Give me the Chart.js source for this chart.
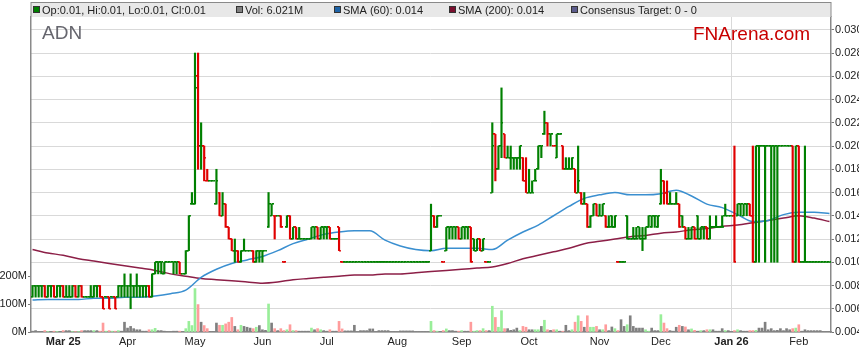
<!DOCTYPE html>
<html>
<head>
<meta charset="utf-8">
<script src="https://cdn.jsdelivr.net/npm/chart.js@4.4.1/dist/chart.umd.min.js"></script>
<style>
  html, body { margin: 0; padding: 0; background: #fff; }
</style>
</head>
<body>
<canvas id="adnChart" width="859" height="363"></canvas>
<script>
// ADN daily bars, one entry per weekday from 17 Feb 2025 to 16 Feb 2026
const firstDay = '2025-02-17';

const open = [
  0.007,0.008,0.008,0.008,0.008,0.007,0.008,0.008,0.007,0.008,
  0.008,0.007,0.007,0.007,0.008,0.007,0.008,0.007,0.007,0.007,
  0.007,0.008,0.008,0.007,0.007,0.007,0.007,0.007,0.007,0.008,
  0.008,0.008,0.008,0.008,0.008,0.008,0.008,0.008,0.008,0.007,
  0.009,0.010,0.010,0.009,0.010,0.010,0.010,0.010,0.010,0.009,
  0.009,0.011,0.015,0.015,0.026,0.020,0.020,0.017,0.017,0.017,
  0.015,0.016,0.014,0.015,0.013,0.012,0.011,0.011,0.010,0.011,
  0.011,0.011,0.011,0.010,0.011,0.011,0.011,0.013,0.014,0.014,
  0.014,0.014,0.010,0.013,0.014,0.012,0.013,0.012,0.012,0.012,
  0.012,0.012,0.013,0.013,0.012,0.013,0.013,0.013,0.012,0.012,
  0.013,0.010,0.010,0.010,0.010,0.010,0.010,0.010,0.010,0.010,
  0.010,0.010,0.010,0.010,0.010,0.010,0.010,0.010,0.010,0.010,
  0.010,0.010,0.010,0.010,0.010,0.010,0.010,0.010,0.010,0.010,
  0.011,0.014,0.013,0.014,0.010,0.011,0.013,0.013,0.013,0.013,
  0.012,0.013,0.013,0.013,0.012,0.011,0.012,0.011,0.010,0.010,
  0.016,0.021,0.018,0.020,0.021,0.019,0.019,0.019,0.019,0.019,
  0.019,0.017,0.016,0.016,0.017,0.018,0.020,0.021,0.022,0.021,
  0.020,0.019,0.021,0.020,0.018,0.018,0.018,0.018,0.016,0.016,
  0.015,0.015,0.013,0.014,0.015,0.014,0.014,0.014,0.013,0.014,
  0.013,0.010,0.010,0.010,0.014,0.012,0.012,0.012,0.013,0.012,
  0.012,0.013,0.013,0.014,0.013,0.015,0.017,0.016,0.015,0.015,
  0.015,0.015,0.014,0.013,0.012,0.012,0.013,0.014,0.012,0.013,
  0.013,0.012,0.013,0.013,0.013,0.013,0.014,0.014,0.014,0.014,
  0.014,0.015,0.014,0.015,0.015,0.014,0.010,0.020,0.020,0.020,
  0.020,0.020,0.020,0.020,0.020,0.020,0.020,0.020,0.020,0.010,
  0.020,0.010,0.010,0.010,0.010,0.010,0.010,0.010,0.010,0.010,
  0.010
];

const high = [
  0.008,0.008,0.008,0.008,0.008,0.008,0.008,0.008,0.008,0.008,
  0.008,0.008,0.008,0.008,0.008,0.008,0.008,0.007,0.007,0.008,
  0.008,0.008,0.008,0.007,0.007,0.007,0.007,0.007,0.008,0.008,
  0.009,0.008,0.009,0.008,0.009,0.008,0.008,0.008,0.008,0.009,
  0.010,0.010,0.010,0.010,0.010,0.010,0.010,0.010,0.010,0.009,
  0.011,0.014,0.016,0.028,0.028,0.022,0.020,0.018,0.017,0.017,
  0.018,0.016,0.016,0.015,0.013,0.012,0.012,0.011,0.011,0.012,
  0.011,0.011,0.011,0.011,0.011,0.011,0.011,0.016,0.015,0.014,
  0.014,0.014,0.010,0.014,0.014,0.013,0.013,0.013,0.012,0.012,
  0.012,0.013,0.013,0.013,0.013,0.013,0.013,0.013,0.012,0.012,
  0.013,0.010,0.010,0.010,0.010,0.010,0.010,0.010,0.010,0.010,
  0.010,0.010,0.010,0.010,0.010,0.010,0.010,0.010,0.010,0.010,
  0.010,0.010,0.010,0.010,0.010,0.010,0.010,0.010,0.010,0.010,
  0.015,0.014,0.014,0.014,0.010,0.013,0.013,0.013,0.013,0.013,
  0.013,0.013,0.013,0.013,0.012,0.012,0.012,0.012,0.010,0.010,
  0.022,0.021,0.020,0.025,0.021,0.020,0.020,0.019,0.019,0.020,
  0.019,0.019,0.018,0.017,0.018,0.020,0.020,0.023,0.022,0.021,
  0.020,0.021,0.021,0.020,0.019,0.019,0.019,0.018,0.020,0.016,
  0.016,0.015,0.014,0.015,0.015,0.015,0.015,0.014,0.014,0.014,
  0.014,0.010,0.010,0.010,0.014,0.012,0.013,0.013,0.013,0.013,
  0.013,0.014,0.014,0.014,0.014,0.018,0.017,0.017,0.016,0.015,
  0.016,0.015,0.014,0.013,0.013,0.013,0.013,0.014,0.013,0.013,
  0.013,0.014,0.013,0.014,0.013,0.014,0.015,0.014,0.014,0.020,
  0.015,0.015,0.015,0.015,0.015,0.020,0.020,0.020,0.020,0.020,
  0.020,0.020,0.020,0.020,0.020,0.020,0.020,0.020,0.020,0.020,
  0.020,0.010,0.020,0.010,0.010,0.010,0.010,0.010,0.010,0.010,
  0.010
];

const low = [
  0.007,0.007,0.007,0.007,0.007,0.007,0.007,0.007,0.007,0.007,
  0.007,0.007,0.007,0.007,0.007,0.007,0.007,0.007,0.007,0.007,
  0.007,0.007,0.007,0.006,0.007,0.006,0.007,0.006,0.007,0.007,
  0.007,0.007,0.006,0.007,0.007,0.007,0.007,0.007,0.007,0.007,
  0.009,0.009,0.009,0.009,0.010,0.010,0.009,0.009,0.009,0.009,
  0.009,0.011,0.015,0.015,0.018,0.018,0.017,0.017,0.017,0.017,
  0.015,0.014,0.014,0.013,0.012,0.011,0.010,0.010,0.010,0.011,
  0.011,0.011,0.010,0.010,0.010,0.010,0.011,0.013,0.014,0.012,
  0.014,0.013,0.010,0.013,0.012,0.012,0.012,0.012,0.012,0.012,
  0.012,0.012,0.012,0.012,0.012,0.012,0.012,0.012,0.012,0.012,
  0.011,0.010,0.010,0.010,0.010,0.010,0.010,0.010,0.010,0.010,
  0.010,0.010,0.010,0.010,0.010,0.010,0.010,0.010,0.010,0.010,
  0.010,0.010,0.010,0.010,0.010,0.010,0.010,0.010,0.010,0.010,
  0.011,0.013,0.013,0.014,0.010,0.011,0.012,0.012,0.012,0.012,
  0.012,0.012,0.012,0.010,0.011,0.011,0.011,0.011,0.010,0.010,
  0.016,0.017,0.018,0.019,0.019,0.019,0.018,0.018,0.018,0.018,
  0.017,0.016,0.016,0.016,0.017,0.018,0.019,0.021,0.020,0.020,
  0.020,0.019,0.021,0.018,0.018,0.018,0.018,0.016,0.016,0.015,
  0.015,0.013,0.013,0.014,0.014,0.014,0.014,0.013,0.013,0.013,
  0.013,0.010,0.010,0.010,0.012,0.012,0.012,0.012,0.012,0.011,
  0.012,0.013,0.013,0.013,0.013,0.015,0.015,0.015,0.015,0.015,
  0.015,0.013,0.013,0.012,0.012,0.012,0.012,0.012,0.012,0.012,
  0.012,0.012,0.013,0.013,0.013,0.013,0.014,0.014,0.014,0.010,
  0.014,0.014,0.014,0.014,0.014,0.010,0.010,0.010,0.020,0.010,
  0.020,0.010,0.010,0.010,0.020,0.020,0.020,0.020,0.010,0.010,
  0.010,0.010,0.010,0.010,0.010,0.010,0.010,0.010,0.010,0.010,
  0.010
];

const close = [
  0.008,0.008,0.008,0.008,0.007,0.008,0.008,0.007,0.008,0.008,
  0.007,0.007,0.007,0.008,0.007,0.008,0.007,0.007,0.007,0.007,
  0.008,0.008,0.007,0.006,0.007,0.006,0.007,0.006,0.008,0.008,
  0.008,0.008,0.008,0.008,0.008,0.008,0.008,0.008,0.007,0.009,
  0.010,0.010,0.010,0.010,0.010,0.010,0.010,0.010,0.009,0.009,
  0.011,0.014,0.015,0.025,0.020,0.020,0.019,0.017,0.017,0.017,
  0.017,0.014,0.015,0.013,0.012,0.011,0.011,0.010,0.011,0.011,
  0.011,0.011,0.010,0.011,0.011,0.011,0.011,0.015,0.015,0.014,
  0.014,0.013,0.010,0.014,0.012,0.013,0.012,0.012,0.012,0.012,
  0.012,0.013,0.013,0.012,0.013,0.013,0.013,0.012,0.012,0.012,
  0.011,0.010,0.010,0.010,0.010,0.010,0.010,0.010,0.010,0.010,
  0.010,0.010,0.010,0.010,0.010,0.010,0.010,0.010,0.010,0.010,
  0.010,0.010,0.010,0.010,0.010,0.010,0.010,0.010,0.010,0.010,
  0.014,0.013,0.014,0.014,0.010,0.013,0.013,0.013,0.013,0.012,
  0.013,0.013,0.013,0.010,0.011,0.012,0.011,0.012,0.010,0.010,
  0.020,0.018,0.020,0.022,0.019,0.019,0.019,0.019,0.019,0.020,
  0.017,0.016,0.016,0.016,0.017,0.020,0.020,0.022,0.021,0.021,
  0.020,0.021,0.021,0.018,0.018,0.018,0.019,0.016,0.017,0.015,
  0.015,0.013,0.014,0.015,0.014,0.014,0.015,0.013,0.013,0.013,
  0.014,0.010,0.010,0.010,0.012,0.012,0.012,0.012,0.012,0.012,
  0.013,0.014,0.014,0.014,0.014,0.017,0.016,0.015,0.015,0.015,
  0.015,0.013,0.013,0.012,0.012,0.013,0.012,0.012,0.013,0.013,
  0.012,0.013,0.013,0.013,0.013,0.013,0.014,0.014,0.014,0.010,
  0.015,0.015,0.015,0.015,0.014,0.010,0.020,0.020,0.020,0.020,
  0.020,0.020,0.020,0.020,0.020,0.020,0.020,0.020,0.010,0.020,
  0.010,0.010,0.010,0.010,0.010,0.010,0.010,0.010,0.010,0.010,
  0.010
];

// volume, millions of shares
const volumeMillions = [
  3,5,2,2,5,2,2,3,2,2,
  5,5,5,2,2,2,5,5,5,5,
  5,5,3,32,3,5,3,3,5,3,
  35,14,20,12,8,8,3,3,8,8,
  13,5,5,3,0,0,3,3,3,0,
  12,38,23,155,98,35,23,12,2,2,
  32,24,24,29,35,52,20,8,24,20,
  17,14,12,17,23,8,6,100,32,12,
  5,12,5,8,26,5,5,3,3,3,
  3,14,8,12,8,5,3,8,3,3,
  38,11,4,4,4,24,0,5,5,5,
  11,11,0,5,5,5,5,0,0,0,
  4,4,4,4,4,0,0,0,0,0,
  38,5,3,2,5,11,5,5,3,3,
  5,3,3,35,3,5,5,12,5,5,
  92,52,17,76,12,12,6,8,14,5,
  20,17,8,8,8,8,20,42,8,6,
  8,8,3,3,24,5,8,35,58,38,
  17,58,17,17,20,8,8,26,5,18,
  12,5,44,20,26,58,20,14,14,14,
  8,3,14,5,5,62,32,12,5,3,
  17,24,20,18,8,11,6,3,5,5,
  8,8,8,3,3,12,5,5,0,5,
  8,5,3,3,5,5,6,14,14,35,
  8,12,5,6,12,5,12,8,12,14,
  26,3,8,5,5,5,5,5,2,2,
  2
];

// moving averages read once a week (every 5th weekday from the first day)
const sma60 = [
  0.00675,0.0068,0.0068,0.0068,0.0069,0.0069,0.0070,0.0070,0.0071,0.0073,
  0.0076,0.0087,0.0094,0.0099,0.0102,0.0105,0.0110,0.0116,0.0120,0.0124,
  0.0126,0.0127,0.0127,0.0119,0.0114,0.0111,0.0110,0.0112,0.0112,0.0112,
  0.0111,0.0119,0.0126,0.0132,0.0140,0.0148,0.0155,0.0158,0.0160,0.0158,
  0.0158,0.0159,0.0162,0.0157,0.0150,0.0147,0.0141,0.0135,0.0136,0.0141,
  0.0143,0.0143,0.0142
];
const sma200 = [
  0.0111,0.0108,0.0106,0.0103,0.0101,0.0099,0.0097,0.0095,0.0093,0.0090,
  0.0088,0.0086,0.0085,0.0084,0.0083,0.0082,0.0083,0.0085,0.0086,0.0087,
  0.0088,0.0089,0.0089,0.0090,0.0090,0.0091,0.0092,0.0093,0.0094,0.0095,
  0.0096,0.0099,0.0103,0.0106,0.0109,0.0112,0.0116,0.0118,0.0120,0.0122,
  0.0123,0.0125,0.0126,0.0128,0.0129,0.0131,0.0132,0.0134,0.0136,0.0138,
  0.0140,0.0138,0.0135
];

const monthLabels = ['Mar 25','Apr','May','Jun','Jul','Aug','Sep','Oct','Nov','Dec','Jan 26','Feb'];
const priceTicks = [0.004,0.006,0.008,0.010,0.012,0.014,0.016,0.018,0.020,0.022,0.024,0.026,0.028,0.030];
const volumeTicks = [0, 100e6, 200e6];
const legendText = ['Op:0.01, Hi:0.01, Lo:0.01, Cl:0.01', 'Vol: 6.021M', 'SMA (60): 0.014', 'SMA (200): 0.014', 'Consensus Target: 0 - 0'];

// weekday calendar for the category axis
const dates = [];
(function () {
  const d = new Date(firstDay + 'T00:00:00Z');
  while (dates.length < close.length) {
    const wd = d.getUTCDay();
    if (wd !== 0 && wd !== 6) dates.push(d.toISOString().slice(0, 10));
    d.setUTCDate(d.getUTCDate() + 1);
  }
})();

// first weekday of each month gets a label
const monthAt = [];
let m = 0;
dates.forEach((d, i) => {
  if (i > 0 && d.slice(5, 7) !== dates[i - 1].slice(5, 7)) monthAt[i] = monthLabels[m++];
});

const UP = '#008000', DOWN = '#e00000';
const VOL_UP = '#99ee99', VOL_DOWN = '#ff9c9c', VOL_FLAT = '#808080';

const barUp = close.map((c, i) => c >= (i ? close[i - 1] : open[0]));
const volColours = close.map((c, i) => {
  const p = i ? close[i - 1] : c;
  return c > p ? VOL_UP : (c < p ? VOL_DOWN : VOL_FLAT);
});

// small open/close tick marks used as point images (about 1.5px thick)
function tickImage(colour, side) {
  const c = document.createElement('canvas');
  c.width = 4; c.height = 2;
  const g = c.getContext('2d');
  const x = side === 'left' ? 0 : 2;
  g.fillStyle = colour;
  g.fillRect(x, 0, 2, 1);
  g.globalAlpha = 0.5;
  g.fillRect(x, 1, 2, 1);
  return c;
}
const openUp = tickImage(UP, 'left'), openDown = tickImage(DOWN, 'left');
const closeUp = tickImage(UP, 'right'), closeDown = tickImage(DOWN, 'right');

const legendColours = ['#008000', '#808080', '#1f64a8', '#7a0f2e', '#5c5c8c'];
const legendTextX = [42, 245, 343, 458, 580];

const framePlugin = {
  id: 'frame',
  afterDraw(chart) {
    const { ctx, chartArea: a } = chart;
    ctx.save();
    ctx.fillStyle = '#e8e8e8';
    ctx.fillRect(a.left, 2, a.right - a.left, a.top - 2);
    ctx.strokeStyle = '#8a8a8a';
    ctx.lineWidth = 1;
    ctx.beginPath();
    ctx.moveTo(a.left, 2.5); ctx.lineTo(a.right, 2.5);
    ctx.moveTo(a.left, 2); ctx.lineTo(a.left, a.top);
    ctx.moveTo(a.right, 2); ctx.lineTo(a.right, a.top);
    ctx.stroke();

    ctx.font = '11px "Liberation Sans", Arial, sans-serif';
    ctx.textBaseline = 'alphabetic';
    legendText.forEach((t, i) => {
      const tx = legendTextX[i];
      ctx.fillStyle = legendColours[i];
      ctx.fillRect(tx - 9, 6, 7, 7);
      ctx.strokeStyle = '#333';
      ctx.strokeRect(tx - 8.5, 6.5, 6, 6);
      ctx.fillStyle = '#222';
      ctx.fillText(t, tx, 13.5);
    });

    ctx.font = '19px "Liberation Sans", Arial, sans-serif';
    ctx.fillStyle = '#66666e';
    ctx.fillText('ADN', 42, 39);
    ctx.fillStyle = '#c80000';
    ctx.fillText('FNArena.com', 693, 39.5);
    ctx.restore();
  }
};

Chart.defaults.font.family = '"Liberation Sans", Arial, sans-serif';

new Chart(document.getElementById('adnChart'), {
  type: 'bar',
  data: {
    labels: dates,
    datasets: [
      {
        type: 'line',
        label: 'SMA (60)',
        data: sma60.map((v, j) => ({ x: dates[j * 5], y: v })),
        borderColor: '#3a8fd0',
        borderWidth: 1.5,
        pointRadius: 0,
        cubicInterpolationMode: 'monotone',
        yAxisID: 'price',
        order: 3
      },
      {
        type: 'line',
        label: 'SMA (200)',
        data: sma200.map((v, j) => ({ x: dates[j * 5], y: v })),
        borderColor: '#8c1f47',
        borderWidth: 1.5,
        pointRadius: 0,
        cubicInterpolationMode: 'monotone',
        yAxisID: 'price',
        order: 3
      },
      {
        type: 'bar',
        label: 'High-Low',
        data: low.map((l, i) => [l, high[i]]),
        backgroundColor: barUp.map(u => (u ? UP : DOWN)),
        barThickness: 1.5,
        grouped: false,
        yAxisID: 'price',
        order: 2
      },
      {
        type: 'line',
        label: 'Open',
        data: open,
        showLine: false,
        pointStyle: barUp.map(u => (u ? openUp : openDown)),
        pointRadius: 2,
        pointHoverRadius: 2,
        yAxisID: 'price',
        order: 1
      },
      {
        type: 'line',
        label: 'Close',
        data: close,
        showLine: false,
        pointStyle: barUp.map(u => (u ? closeUp : closeDown)),
        pointRadius: 2,
        pointHoverRadius: 2,
        yAxisID: 'price',
        order: 1
      },
      {
        type: 'bar',
        label: 'Vol',
        data: volumeMillions.map(v => v * 1e6),
        backgroundColor: volColours,
        barThickness: 2,
        grouped: false,
        yAxisID: 'vol',
        order: 5
      }
    ]
  },
  options: {
    responsive: false,
    animation: false,
    events: [],
    layout: { padding: { top: 17, left: 0, right: 0, bottom: 0 } },
    plugins: {
      legend: { display: false },
      tooltip: { enabled: false }
    },
    scales: {
      x: {
        type: 'category',
        offset: true,
        grid: {
          offset: false,
          drawTicks: false,
          color: ctx => (monthAt[ctx.index] ? '#d9d9d9' : 'rgba(0,0,0,0)')
        },
        border: { color: '#8a8a8a', width: 1.5 },
        ticks: {
          autoSkip: false,
          maxRotation: 0,
          padding: 3,
          color: '#222',
          font: ctx => {
            const label = (ctx.tick && ctx.tick.label) || monthAt[ctx.index] || '';
            return { size: 11, weight: /\d/.test(label) ? 'bold' : 'normal' };
          },
          callback: (v, i) => monthAt[i] || null
        },
        afterFit: s => { s.height = 31; }
      },
      price: {
        type: 'linear',
        position: 'right',
        min: 0.004,
        max: 0.0311,
        afterBuildTicks: s => { s.ticks = priceTicks.map(v => ({ value: v })); },
        grid: { color: '#d9d9d9', tickColor: '#777', tickLength: 3 },
        border: { color: '#8a8a8a', width: 1.5 },
        ticks: { padding: 1, color: '#222', font: { size: 11 }, callback: v => v.toFixed(3) },
        afterFit: s => { s.width = 28; }
      },
      vol: {
        type: 'linear',
        position: 'left',
        min: 0,
        max: 1125e6,
        afterBuildTicks: s => { s.ticks = volumeTicks.map(v => ({ value: v })); },
        grid: { drawOnChartArea: false, tickColor: '#777', tickLength: 3 },
        border: { color: '#8a8a8a', width: 1.5 },
        ticks: { padding: 1, color: '#222', font: { size: 11 }, callback: v => (v / 1e6) + 'M' },
        afterFit: s => { s.width = 31; }
      }
    }
  },
  plugins: [framePlugin]
});
</script>
</body>
</html>
